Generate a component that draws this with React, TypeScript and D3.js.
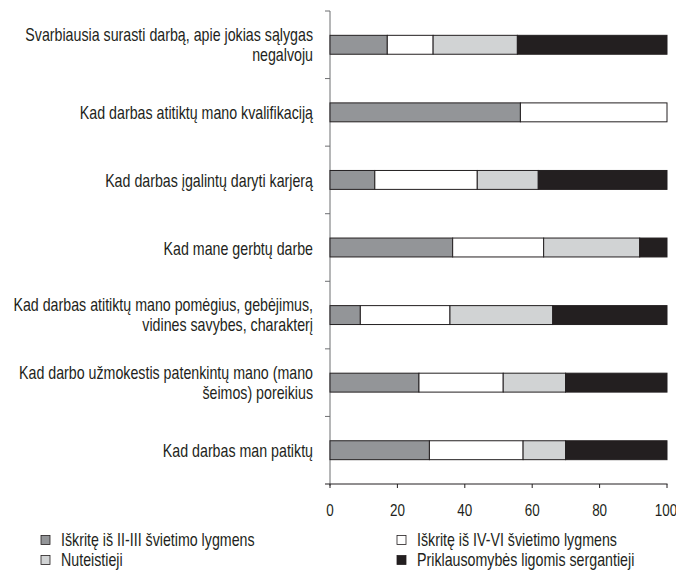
import React from "react";
import * as d3 from "d3";

const categories = [
  "Svarbiausia surasti darbą, apie jokias sąlygas\nnegalvoju",
  "Kad darbas atitiktų mano kvalifikaciją",
  "Kad darbas įgalintų daryti karjerą",
  "Kad mane gerbtų darbe",
  "Kad darbas atitiktų mano pomėgius, gebėjimus,\nvidines savybes, charakterį",
  "Kad darbo užmokestis patenkintų mano (mano\nšeimos) poreikius",
  "Kad darbas man patiktų",
];

const seriesNames = [
  "Iškritę iš II-III švietimo lygmens",
  "Iškritę iš IV-VI švietimo lygmens",
  "Nuteistieji",
  "Priklausomybės ligomis sergantieji",
];

const s1 = [17, 56.5, 13.3, 36.4, 9, 26.4, 29.5];
const s2 = [13.6, 43.5, 30.4, 27, 26.6, 25, 27.8];
const s3 = [25, 0, 18.1, 28.5, 30.5, 18.5, 12.6];
const s4 = [44.4, 0, 38.2, 8.1, 33.9, 30.1, 30.1];

const xTicks = [0, 20, 40, 60, 80, 100];

const colors = ["#939598", "#ffffff", "#d1d3d4", "#231f20"];

const W = 676;
const H = 576;
const FONT = "'Liberation Sans', Arial, sans-serif";
const SX = 0.79;

function NText({ x, y, anchor, size, children }: any) {
  return (
    <g transform={`translate(${x},${y}) scale(${SX},1)`}>
      <text x={0} y={0} textAnchor={anchor} fontSize={size} fill="#231f20">
        {children}
      </text>
    </g>
  );
}

export default function App() {
  const keys = ["a", "b", "c", "d"];
  const rows = categories.map((c, i) => ({ cat: c, a: s1[i], b: s2[i], c: s3[i], d: s4[i] }));
  const stacked = d3.stack<any>().keys(keys)(rows);

  const x = d3.scaleLinear().domain([0, 100]).range([330, 667]);
  const y = d3
    .scaleBand<string>()
    .domain(categories)
    .range([11, 484])
    .paddingInner(0.72)
    .paddingOuter(0.36);
  const step = y.step();

  const boundaries = d3.range(categories.length + 1).map((i) => 11 + i * step);

  return (
    <svg
      width={W}
      height={H}
      style={{ position: "absolute", left: 0, top: 0, background: "#fff" }}
      fontFamily={FONT}
    >
      {/* y axis */}
      <line x1={330} x2={330} y1={11} y2={486} stroke="#6d6e71" strokeWidth={1} />
      {boundaries.slice(0, -1).map((b, i) => (
        <line key={"yt" + i} x1={325} x2={330} y1={b} y2={b} stroke="#6d6e71" strokeWidth={1} />
      ))}
      {/* bars */}
      {stacked.map((s, si) =>
        s.map((d, i) =>
          d[1] - d[0] > 0 ? (
            <rect
              key={si + "-" + i}
              x={x(d[0])}
              y={y(categories[i])!}
              width={x(d[1]) - x(d[0])}
              height={y.bandwidth()}
              fill={colors[si]}
              stroke="#231f20"
              strokeWidth={1}
            />
          ) : null
        )
      )}
      {/* x axis */}
      <line x1={325} x2={667.5} y1={484} y2={484} stroke="#231f20" strokeWidth={1} />
      {xTicks.map((t) => (
        <g key={"xt" + t}>
          <line x1={x(t)} x2={x(t)} y1={484} y2={488} stroke="#231f20" strokeWidth={1} />
          <NText x={t === 100 ? x(t) - 1 : x(t)} y={516} anchor="middle" size={17}>
            {t}
          </NText>
        </g>
      ))}
      {/* category labels */}
      {categories.map((c, i) => {
        const cy = y(c)! + y.bandwidth() / 2;
        const lines = c.split("\n");
        return (
          <g key={"cl" + i}>
            {lines.length === 1 ? (
              <NText x={313} y={cy + 7} anchor="end" size={18}>
                {lines[0]}
              </NText>
            ) : (
              lines.map((l, li) => (
                <NText key={li} x={313} y={cy - 4 + li * 20} anchor="end" size={18}>
                  {l}
                </NText>
              ))
            )}
          </g>
        );
      })}
      {/* legend */}
      {seriesNames.map((n, i) => {
        const col = i % 2;
        const row = Math.floor(i / 2);
        const lx = col === 0 ? 41 : 397;
        const ly = 540 + row * 20;
        return (
          <g key={"lg" + i}>
            <rect x={lx} y={ly - 4.5} width={9} height={9} fill={colors[i]} stroke="#231f20" strokeWidth={0.8} />
            <NText x={lx + 20} y={ly + 6} anchor="start" size={18}>
              {n}
            </NText>
          </g>
        );
      })}
    </svg>
  );
}
